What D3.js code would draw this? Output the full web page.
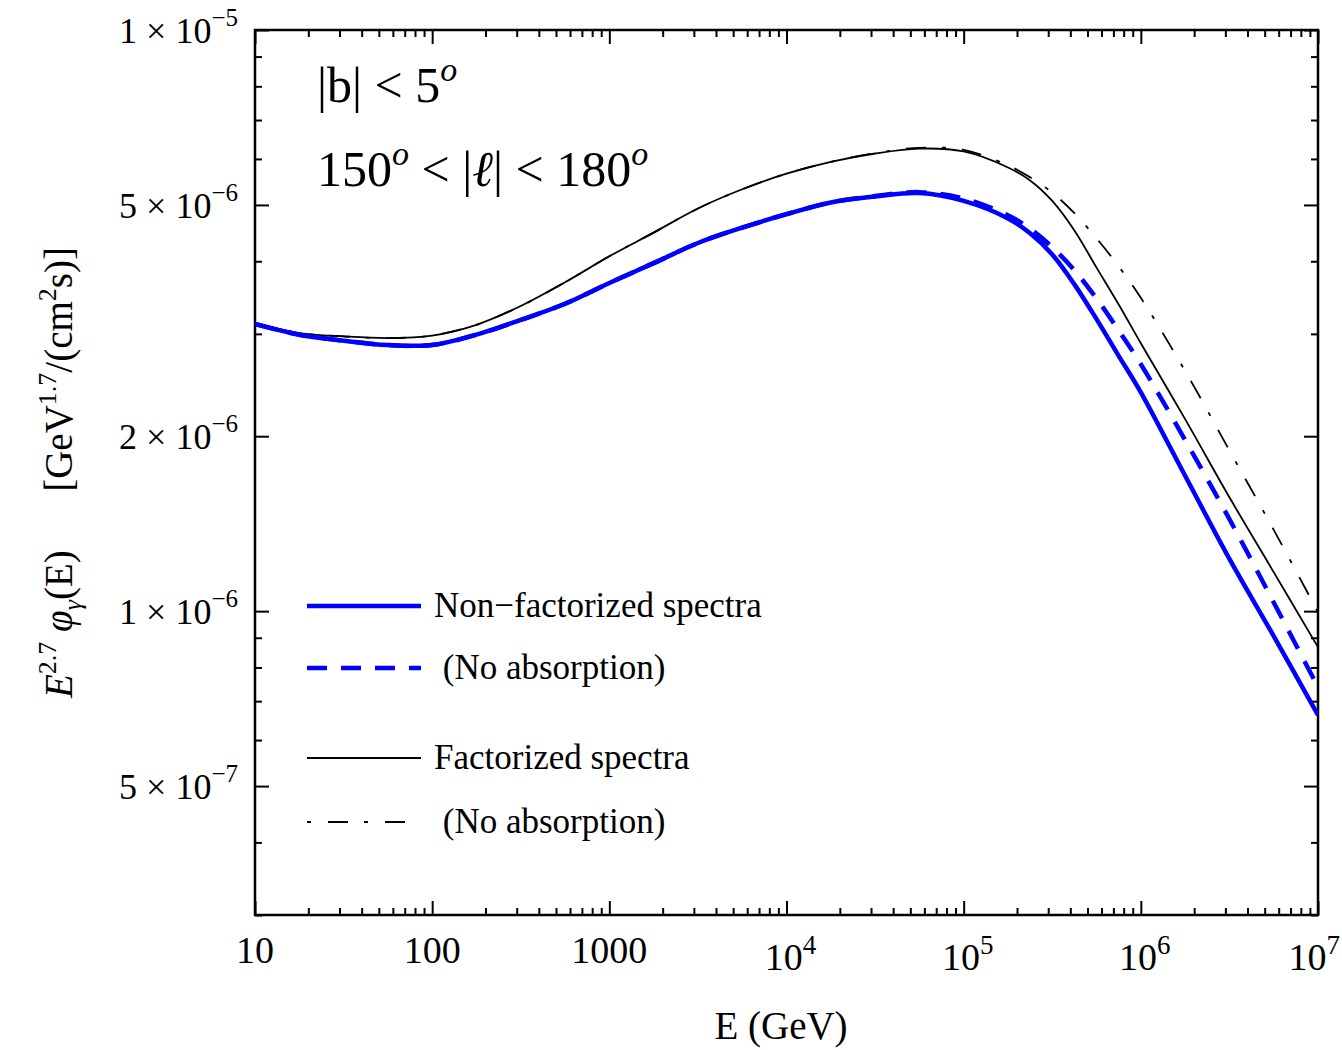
<!DOCTYPE html>
<html>
<head>
<meta charset="utf-8">
<script src="https://cdn.jsdelivr.net/npm/d3@7"></script>
<style>
  body { margin: 0; background: #fff; }
  svg text { font-family: "Liberation Serif", "Times New Roman", serif; fill: #000; }
</style>
</head>
<body>
<div id="chart"></div>
<script>
const WIDTH = 1342;
const HEIGHT = 1050;
const MARGINS = {left: 255, right: 24, top: 30, bottom: 135};

// log10 of energy (GeV) where the curves were read
const logE = [1, 1.25, 1.5, 1.75, 2, 2.25, 2.5, 2.75, 3, 3.25, 3.5, 3.75, 4, 4.25, 4.5, 4.75,
              5, 5.25, 5.375, 5.5, 5.625, 5.75, 5.875, 6, 6.25, 6.5, 6.75, 7];

// values in units of 1e-6 GeV^1.7 / (cm^2 s)
const nonFact = [3.12, 2.99, 2.92, 2.87, 2.87, 2.99, 3.17, 3.38, 3.67, 3.97, 4.30, 4.57, 4.82, 5.05, 5.17, 5.24,
                 5.08, 4.74, 4.47, 4.11, 3.65, 3.18, 2.75, 2.38, 1.71, 1.23, 0.906, 0.662];
const nonFactNoAbs = [3.12, 2.99, 2.92, 2.87, 2.87, 2.99, 3.17, 3.38, 3.67, 3.97, 4.30, 4.57, 4.82, 5.05, 5.18, 5.26,
                      5.13, 4.80, 4.55, 4.23, 3.86, 3.45, 3.04, 2.66, 1.97, 1.44, 1.035, 0.74];
const fact = [3.13, 3.01, 2.97, 2.95, 2.98, 3.11, 3.35, 3.68, 4.08, 4.48, 4.93, 5.32, 5.66, 5.93, 6.13, 6.25,
              6.18, 5.80, 5.51, 5.08, 4.52, 3.90, 3.37, 2.89, 2.14, 1.57, 1.167, 0.867];
const factNoAbs = [3.13, 3.01, 2.97, 2.95, 2.98, 3.11, 3.35, 3.68, 4.08, 4.48, 4.93, 5.32, 5.66, 5.93, 6.14, 6.27,
                   6.22, 5.85, 5.58, 5.25, 4.84, 4.38, 3.92, 3.46, 2.59, 1.89, 1.38, 0.996];

const xMajor = [10, 100, 1000, 1e4, 1e5, 1e6, 1e7];
const xLabels = [["10", ""], ["100", ""], ["1000", ""], ["10", "4"], ["10", "5"], ["10", "6"], ["10", "7"]];
const yLabelled = [1e-5, 5e-6, 2e-6, 1e-6, 5e-7];
const yLabels = [["1", "\u22125"], ["5", "\u22126"], ["2", "\u22126"], ["1", "\u22126"], ["5", "\u22127"]];

const legendNames = ["Non\u2212factorized spectra", " (No absorption)", "Factorized spectra", " (No absorption)"];

const VIS_WIDTH = WIDTH - MARGINS.left - MARGINS.right;
const VIS_HEIGHT = HEIGHT - MARGINS.top - MARGINS.bottom;

const svg = d3.select("#chart").append("svg")
    .attr("width", WIDTH)
    .attr("height", HEIGHT);

const x = d3.scaleLog().domain([10, 1e7]).range([MARGINS.left, MARGINS.left + VIS_WIDTH]);
const y = d3.scaleLog().domain([3e-7, 1e-5]).range([MARGINS.top + VIS_HEIGHT, MARGINS.top]);

// minor ticks: every integer multiple inside each decade
const xMinor = [];
for (let d = 1; d < 7; d++) for (let k = 2; k <= 9; k++) xMinor.push(k * Math.pow(10, d));
const yMinor = [];
for (let d = -7; d <= -6; d++) for (let k = 1; k <= 9; k++) {
  const v = k * Math.pow(10, d);
  if (v >= 3e-7 && v <= 1e-5 && !yLabelled.some(l => Math.abs(l - v) / v < 1e-6)) yMinor.push(v);
}

const MAJ = 14, MIN = 7;
function tickGroup(axisFn, scale, vals, size, tx, ty) {
  svg.append("g")
      .attr("transform", `translate(${tx},${ty})`)
      .call(axisFn(scale).tickValues(vals).tickSize(size).tickFormat(""))
      .call(g => g.select(".domain").remove())
      .call(g => g.selectAll(".tick line").attr("stroke", "#000").attr("stroke-width", 2));
}
const bottomY = MARGINS.top + VIS_HEIGHT;
const rightX = MARGINS.left + VIS_WIDTH;
tickGroup(d3.axisBottom, x, xMajor, -MAJ, 0, bottomY);
tickGroup(d3.axisBottom, x, xMinor, -MIN, 0, bottomY);
tickGroup(d3.axisTop, x, xMajor, -MAJ, 0, MARGINS.top);
tickGroup(d3.axisTop, x, xMinor, -MIN, 0, MARGINS.top);
tickGroup(d3.axisLeft, y, yLabelled, -MAJ, MARGINS.left, 0);
tickGroup(d3.axisLeft, y, yMinor, -MIN, MARGINS.left, 0);
tickGroup(d3.axisRight, y, yLabelled, -MAJ, rightX, 0);
tickGroup(d3.axisRight, y, yMinor, -MIN, rightX, 0);

// frame
svg.append("rect")
    .attr("x", MARGINS.left).attr("y", MARGINS.top)
    .attr("width", VIS_WIDTH).attr("height", VIS_HEIGHT)
    .attr("fill", "none").attr("stroke", "#000").attr("stroke-width", 2.5);

// x tick labels
xMajor.forEach((v, i) => {
  const hasExp = xLabels[i][1] !== "";
  const last = i === xMajor.length - 1;
  const t = svg.append("text")
      .attr("x", last ? WIDTH - 2 : x(v) + (hasExp ? 4 : 0))
      .attr("y", hasExp ? 970 : 963)
      .attr("text-anchor", last ? "end" : "middle")
      .attr("font-size", 38);
  t.append("tspan").text(xLabels[i][0]);
  if (hasExp) t.append("tspan").attr("dy", -16).attr("font-size", 27).text(xLabels[i][1]);
});

// y tick labels
yLabelled.forEach((v, i) => {
  const t = svg.append("text")
      .attr("x", 238).attr("y", y(v) + 13)
      .attr("text-anchor", "end")
      .attr("font-size", 36)
      .style("white-space", "pre");
  t.append("tspan").text(yLabels[i][0] + " \u00d7 10");
  t.append("tspan").attr("dy", -17).attr("font-size", 25).text(yLabels[i][1]);
});

// axis titles
svg.append("text")
    .attr("x", 781).attr("y", 1039)
    .attr("text-anchor", "middle").attr("font-size", 39)
    .text("E (GeV)");

const yt = svg.append("text")
    .attr("transform", `translate(72,${(240 + 705) / 2}) rotate(-90)`)
    .attr("text-anchor", "middle").attr("font-size", 39);
yt.append("tspan").attr("font-style", "italic").text("E");
yt.append("tspan").attr("dy", -16).attr("font-size", 26).text("2.7");
yt.append("tspan").attr("dy", 16).text(" ");
yt.append("tspan").attr("font-style", "italic").text("\u03c6");
yt.append("tspan").attr("dy", 9).attr("font-size", 26).attr("font-style", "italic").text("\u03b3");
yt.append("tspan").attr("dy", -9).text("(E)\u2003\u2002[GeV");
yt.append("tspan").attr("dy", -16).attr("font-size", 26).text("1.7");
yt.append("tspan").attr("dy", 16).text("/(cm");
yt.append("tspan").attr("dy", -16).attr("font-size", 26).text("2");
yt.append("tspan").attr("dy", 16).text("s)]");

// region annotations
const a1 = svg.append("text").attr("x", 317).attr("y", 102).attr("font-size", 50);
a1.append("tspan").text("|b| < 5");
a1.append("tspan").attr("dy", -21).attr("font-size", 34).attr("font-style", "italic").text("o");
const a2 = svg.append("text").attr("x", 317).attr("y", 186).attr("font-size", 50);
a2.append("tspan").text("150");
a2.append("tspan").attr("dy", -21).attr("font-size", 34).attr("font-style", "italic").text("o");
a2.append("tspan").attr("dy", 21).text(" < |");
a2.append("tspan").attr("font-style", "italic").text("\u2113");
a2.append("tspan").text("| < 180");
a2.append("tspan").attr("dy", -21).attr("font-size", 34).attr("font-style", "italic").text("o");

// curves
const series = [
  {vals: nonFactNoAbs, color: "#0000ff", width: 4.5, dash: "20,14"},
  {vals: factNoAbs, color: "#000", width: 1.8, dash: "4,16,20,16"},
  {vals: fact, color: "#000", width: 1.8, dash: null},
  {vals: nonFact, color: "#0000ff", width: 4.5, dash: null}
];

const line = d3.line()
    .x((d) => x(Math.pow(10, d[0])))
    .y((d) => y(d[1] * 1e-6))
    .curve(d3.curveCatmullRom.alpha(0.5));

svg.append("clipPath").attr("id", "plotclip")
  .append("rect")
    .attr("x", MARGINS.left).attr("y", MARGINS.top)
    .attr("width", VIS_WIDTH).attr("height", VIS_HEIGHT);

svg.append("g").attr("clip-path", "url(#plotclip)")
  .selectAll("path")
  .data(series)
  .enter()
  .append("path")
    .attr("d", (s) => line(logE.map((e, i) => [e, s.vals[i]])))
    .attr("fill", "none")
    .attr("stroke", (s) => s.color)
    .attr("stroke-width", (s) => s.width)
    .attr("stroke-dasharray", (s) => s.dash);

// legend
const legendStyles = [
  {color: "#0000ff", width: 4.5, dash: null, y: 606},
  {color: "#0000ff", width: 4.5, dash: "20,14", y: 668},
  {color: "#000", width: 2, dash: null, y: 758},
  {color: "#000", width: 2, dash: "4,17,20,16", y: 822}
];
legendStyles.forEach((s, i) => {
  svg.append("line")
      .attr("x1", 307).attr("x2", 421)
      .attr("y1", s.y).attr("y2", s.y)
      .attr("stroke", s.color).attr("stroke-width", s.width)
      .attr("stroke-dasharray", s.dash);
  svg.append("text")
      .attr("x", 434).attr("y", s.y + 11)
      .attr("font-size", 35)
      .style("white-space", "pre")
      .text(legendNames[i]);
});
</script>
</body>
</html>
